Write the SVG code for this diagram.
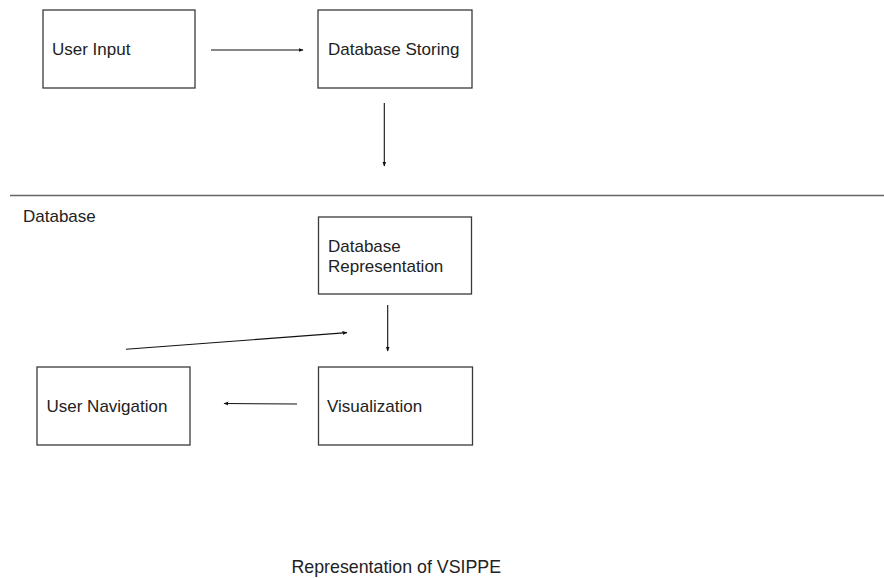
<svg xmlns="http://www.w3.org/2000/svg" width="884" height="578" viewBox="0 0 884 578">
<style>
.box{fill:#fff;stroke:#3a3a3a;stroke-width:1.3}
.lbl{font-family:"Liberation Sans",Arial,sans-serif;font-size:17px;fill:#222}
.con{stroke:#111;stroke-width:1.1;fill:none;marker-end:url(#ah)}
</style>
<defs>
<marker id="ah" viewBox="0 0 10 10" refX="9" refY="5" markerWidth="5" markerHeight="5" orient="auto" markerUnits="userSpaceOnUse">
<path d="M0,1 L10,5 L0,9 Z" fill="#111"/>
</marker>
</defs>
<rect width="884" height="578" fill="#fff"/>
<line x1="10" y1="195.5" x2="884" y2="195.5" stroke="#666" stroke-width="1.3"/>
<text class="lbl" x="23" y="221.5">Database</text>
<g id="user-input"><rect class="box" x="43" y="10" width="152" height="78"/><text class="lbl" x="52" y="55">User Input</text></g>
<g id="database-storing"><rect class="box" x="318" y="10" width="154" height="78"/><text class="lbl" x="328" y="55">Database Storing</text></g>
<g id="database-representation"><rect class="box" x="318.5" y="217" width="153" height="77"/><text class="lbl" x="328" y="252">Database</text><text class="lbl" x="328" y="272">Representation</text></g>
<g id="user-navigation"><rect class="box" x="37" y="367" width="153" height="78"/><text class="lbl" x="46.5" y="412">User Navigation</text></g>
<g id="visualization"><rect class="box" x="318.5" y="367" width="154" height="78"/><text class="lbl" x="327" y="412">Visualization</text></g>
<g id="connectors">
<line class="con" x1="211" y1="50" x2="303" y2="50"/>
<line class="con" x1="384.3" y1="103" x2="384.3" y2="166"/>
<line class="con" x1="387.7" y1="305" x2="387.7" y2="351"/>
<line class="con" x1="297" y1="404" x2="224" y2="403.5"/>
<line class="con" x1="126" y1="349.3" x2="347" y2="332.6"/>
</g>
<text class="lbl" x="291.5" y="572.5" style="font-size:17.8px">Representation of VSIPPE</text>
</svg>
